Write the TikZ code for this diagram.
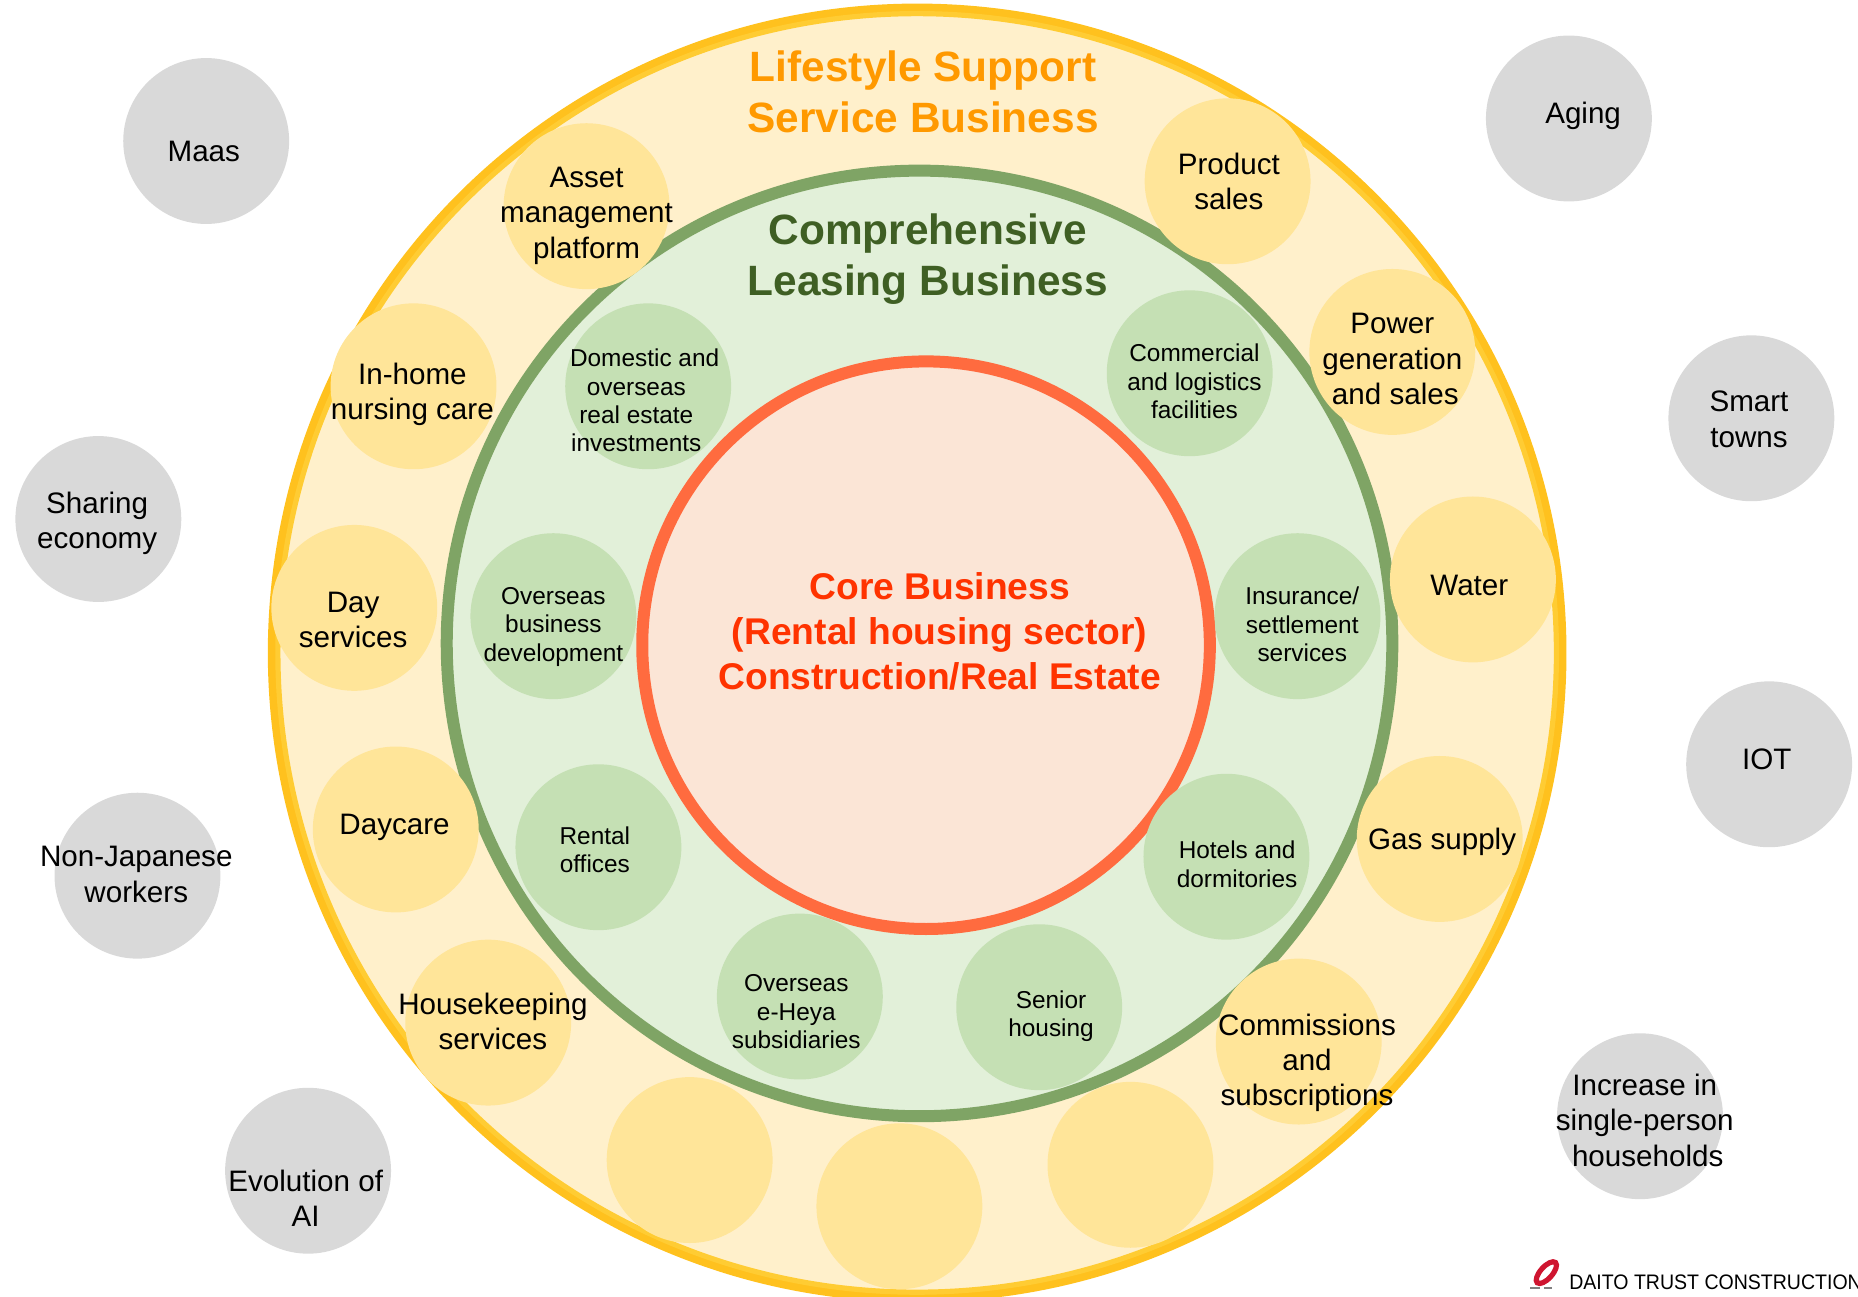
\documentclass[tikz,border=0pt]{standalone}
\usepackage{fontspec}
\setmainfont{Liberation Sans}
\definecolor{outerring}{HTML}{FFC11E}
\definecolor{outerringlight}{HTML}{FFCC33}
\definecolor{outerfill}{HTML}{FFF0CB}
\definecolor{midring}{HTML}{7FA465}
\definecolor{midfill}{HTML}{E2F0D9}
\definecolor{coreRing}{HTML}{FF6B3F}
\definecolor{coreFill}{HTML}{FBE5D6}
\definecolor{yellowbub}{HTML}{FFE599}
\definecolor{greenbub}{HTML}{C5E0B4}
\definecolor{greybub}{HTML}{D9D9D9}
\definecolor{orangetitle}{HTML}{FF9900}
\definecolor{greentitle}{HTML}{3F5F24}
\definecolor{coretitle}{HTML}{FF3300}
\definecolor{logored}{HTML}{CF1530}
\newlength{\pxu}
\setlength{\pxu}{0.59247pt}
\tikzset{
  ring/.style={circle,inner sep=0pt,minimum size=#1*\pxu},
  bub/.style={circle,inner sep=0pt,minimum size=140*\pxu},
  ybub/.style={bub,fill=yellowbub},
  gbub/.style={bub,fill=greenbub},
  kbub/.style={bub,fill=greybub},
  lbl/.style={align=center,inner sep=0pt,font=\fontsize{14.8}{17.7}\selectfont},
  slbl/.style={align=center,inner sep=0pt,font=\fontsize{12.2}{14.2}\selectfont},
  title/.style={align=center,inner sep=0pt,font=\bfseries\fontsize{21.2}{25.4}\selectfont},
}
\newcommand{\bubble}[6]{%
  \node[#2] (#1) at (#3) {};
  \node[#4] (#1t) at (#5) {#6};
}
\begin{document}
\begin{tikzpicture}[x=0.59247pt,y=-0.59247pt]
\useasboundingbox (0,0) rectangle (1568,1094.5);
\begin{scope}
\clip (0,0) rectangle (1568,1094.5);
\node[ring=1086,draw=outerring,line width=5.9pt,fill=outerfill] (outer) at (774,551) {};
\node[ring=1079,draw=outerringlight,line width=2.6pt] (outerlight) at (774,551) {};
\node[ybub] (b1) at (582,979) {};
\node[ybub] (b2) at (759,1018) {};
\node[ybub] (b3) at (954,983) {};
\node[ring=798,draw=midring,line width=6pt,fill=midfill] (mid) at (776,543) {};
\bubble{asset}{ybub}{495,174}{lbl}{495,182}{Asset\\management\\platform}
\bubble{product}{ybub}{1036,153}{lbl}{1037,153}{Product\\sales}
\bubble{inhome}{ybub}{349,326}{lbl}{348,333}{In-home\\nursing care}
\bubble{power}{ybub}{1175,297}{lbl}{1175,303}{Power\\generation\\\hspace*{3pt}and sales}
\bubble{day}{ybub}{299,513}{lbl}{298,523}{Day\\services}
\bubble{water}{ybub}{1243,489}{lbl}{1240,494}{Water}
\bubble{daycare}{ybub}{334,700}{lbl}{333,698}{Daycare}
\bubble{gas}{ybub}{1215,708}{lbl}{1217,710.5}{Gas supply}
\bubble{house}{ybub}{412,863}{lbl}{416,862}{Housekeeping\\services}
\bubble{comm}{ybub}{1096,879}{lbl}{1103,897}{Commissions\\and\\subscriptions}
\node[ring=479,draw=coreRing,line width=6pt,fill=coreFill] (core) at (781.5,544.5) {};
\bubble{dom}{gbub}{547,326}{slbl}{537,338}{\hspace*{8.3pt}Domestic and\\overseas\\real estate\\investments}
\bubble{logi}{gbub}{1004,315}{slbl}{1008,322}{Commercial\\and logistics\\facilities}
\bubble{over}{gbub}{467,520}{slbl}{467,529}{Overseas\\business\\development}
\bubble{ins}{gbub}{1095,520}{slbl}{1099,527}{Insurance/\\settlement\\services}
\bubble{rent}{gbub}{505,715}{slbl}{502,717}{Rental\\offices}
\bubble{hotel}{gbub}{1035,723}{slbl}{1044,729.5}{Hotels and\\dormitories}
\bubble{eheya}{gbub}{675,841}{slbl}{672,854}{Overseas\\e-Heya\\subsidiaries}
\bubble{senior}{gbub}{877,850}{slbl}{887,857.5}{Senior\\housing}
\bubble{maas}{kbub}{174,119}{lbl}{172,128}{Maas}
\bubble{share}{kbub}{83,438}{lbl}{82,441.5}{Sharing\\economy}
\bubble{nonjp}{kbub}{116,739}{lbl}{115,738}{Non-Japanese\\workers}
\bubble{evo}{kbub}{260,988}{lbl}{258,1011}{Evolution of\\AI}
\bubble{aging}{kbub}{1324,100}{lbl}{1336,98}{Aging}
\bubble{smart}{kbub}{1478,353}{lbl}{1476,354}{Smart\\towns}
\bubble{iot}{kbub}{1493,645}{lbl}{1491,641}{IOT}
\bubble{incr}{kbub}{1384,942}{lbl}{1388,945.5}{Increase in\\single-person\\\hspace*{3pt}households}
\node[title,text=orangetitle] (t1) at (779,77.5) {Lifestyle Support\\Service Business};
\node[title,text=greentitle] (t2) at (783,219) {Comprehensive\\Leasing Business};
\node[align=center,inner sep=0pt,text=coretitle,font=\bfseries\fontsize{18.6}{22.5}\selectfont] (t3) at (793,533) {Core Business\\(Rental housing sector)\\Construction/Real Estate};
\begin{scope}[shift={(1305,1074)}]
\draw[logored,line width=2.6pt,rotate=-42] (0,0) ellipse (5 and 11.5);
\fill[gray] (-14,12) rectangle (-5,14);
\fill[gray] (-2,12) rectangle (5,14);
\end{scope}
\node[anchor=west,inner sep=0pt,xscale=0.93,font=\fontsize{10.5}{12}\selectfont] (logo) at (1324,1082) {DAITO TRUST CONSTRUCTION};
\end{scope}
\end{tikzpicture}
\end{document}
